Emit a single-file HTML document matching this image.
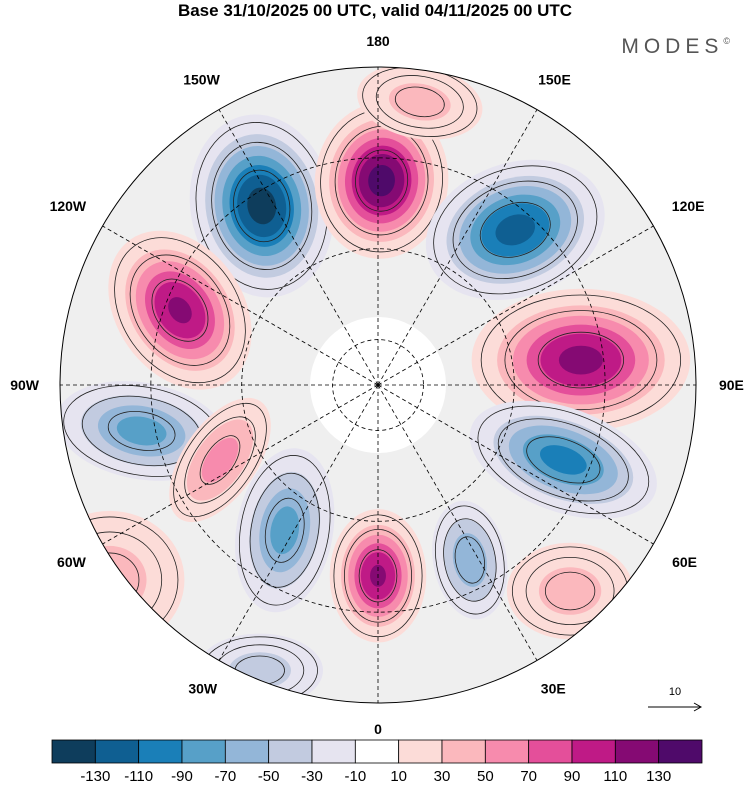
<!DOCTYPE html>
<html><head><meta charset="utf-8"><style>
body{margin:0;background:#fff;font-family:"Liberation Sans",sans-serif}
</style></head><body>
<svg id="map" width="750" height="783" viewBox="0 0 750 783">
<text x="375" y="16" text-anchor="middle" font-size="17" font-weight="bold">Base 31/10/2025 00 UTC, valid 04/11/2025 00 UTC</text>
<text x="735" y="53" text-anchor="end" font-size="21" letter-spacing="5" fill="#555">MODES<tspan font-size="9" dy="-9">©</tspan></text>
<defs><clipPath id="disk"><circle cx="378" cy="385" r="318"/></clipPath></defs>
<g id="field" clip-path="url(#disk)"></g>
<g id="grat"></g>
<circle cx="378" cy="385" r="318" fill="none" stroke="#000" stroke-width="1"/>
<g id="lonlabels" font-size="14" font-weight="bold"></g>
<g>
<text x="675" y="695" text-anchor="middle" font-size="11">10</text>
<line x1="648" y1="707" x2="700" y2="707" stroke="#000"/>
<path d="M694 703 L701 707 L694 711" fill="none" stroke="#000"/>
</g>
<g id="cbar"></g>
</svg>
<script>
const levels=[-150,-130,-110,-90,-70,-50,-30,-10,10,30,50,70,90,110,130,150];
const bandColors=["#0e3d5c","#0f5f92","#1a7fb8","#57a0c8","#93b6d8","#c2cbe0","#e6e4f0","#ffffff","#fcdcd8","#fbb8bd","#f78bad","#e44f9a","#bf1a86","#850a73","#4f0a6a"];
const tickLabels=[-130,-110,-90,-70,-50,-30,-10,10,30,50,70,90,110,130];
const blobLon=[-147,179,138.5,-110.7,97,68,-79,-64.6,-32.7,0,27.7,43,-54,-22.5,171.6];
const blobColat=[47,45,45.6,46.6,45,44,53,38.5,38,42,43.5,62,73,68,63];
const blobAmp=[-140,140,-120,115,118,-100,-80,60,-80,115,-70,40,40,-40,40];
const blobRx=[62,58,80,55,95,85,75,32,42,42,32,55,65,55,55];
const blobRy=[80,68,58,75,62,45,42,62,72,58,52,42,60,32,32];
const blobRot=[-10,5,-20,-35,0,20,10,35,10,0,-10,0,0,0,10];
const NS="http://www.w3.org/2000/svg";
const cx=378,cy=385,R=318,maxColat=70;
function px(lon,colat){const r=R*colat/maxColat,a=lon*Math.PI/180;return [cx+r*Math.sin(a),cy+r*Math.cos(a)];}
function mk(t,attrs,parent){const e=document.createElementNS(NS,t);for(const k in attrs)e.setAttribute(k,attrs[k]);parent.appendChild(e);return e;}
function bandColor(v){for(let i=0;i<bandColors.length;i++){if(v>=levels[i]&&v<levels[i+1])return bandColors[i];}return v<0?bandColors[0]:bandColors[14];}
const field=document.getElementById('field');
const bg=mk('rect',{x:0,y:0,width:750,height:783,fill:'#efefef'},field);


const pole=mk('circle',{cx:cx,cy:cy,r:68,fill:'#ffffff'},field);


blobLon.forEach((lon,i)=>{
  const [x,y]=px(lon,blobColat[i]);const amp=blobAmp[i],A=Math.abs(amp);
  const g=mk('g',{transform:`translate(${x},${y}) rotate(${blobRot[i]})`},field);
  
  
  for(let t=10;t<A;t+=20){
    const s=1.15*Math.pow(Math.log(A/t)/Math.log(A/10),0.45);
    const v=Math.sign(amp)*(t+10);
    mk('ellipse',{cx:0,cy:0,rx:blobRx[i]*s,ry:blobRy[i]*s,fill:bandColor(v)},g);
  }
  [0.45,0.8,1.05].forEach(f=>mk('ellipse',{cx:0,cy:0,rx:blobRx[i]*f,ry:blobRy[i]*f,fill:'none',stroke:'#222','stroke-width':0.8},g));
});
const grat=document.getElementById('grat');
for(let lon=0;lon<360;lon+=30){const [x,y]=px(lon,maxColat);const l=mk('line',{x1:cx,y1:cy,x2:x,y2:y,stroke:'#000','stroke-width':0.8,'stroke-dasharray':'4 3'},grat);}
[10,30,50].forEach(c=>{const ci=mk('circle',{cx:cx,cy:cy,r:R*c/maxColat,fill:'none',stroke:'#000','stroke-width':0.8,'stroke-dasharray':'4 3'},grat);});
const lonNames=["0","30E","60E","90E","120E","150E","180","150W","120W","90W","60W","30W"];
const lab=document.getElementById('lonlabels');
lonNames.forEach((n,i)=>{
  const a=i*30*Math.PI/180;const hw=n.length*4.8;
  const r=R+21+hw*Math.abs(Math.sin(a))+5*Math.abs(Math.cos(a));
  const x=cx+r*Math.sin(a),y=cy+r*Math.cos(a);
  const t=mk('text',{x:x,y:y+5,'text-anchor':'middle'},lab);t.textContent=n;});
const cb=document.getElementById('cbar');const x0=52,w=650/15;
bandColors.forEach((c,i)=>{const r=mk('rect',{x:x0+i*w,y:740,width:w,height:23,fill:c,stroke:'#000','stroke-width':0.8},cb);});
tickLabels.forEach((v,i)=>{const t=mk('text',{x:x0+(i+1)*w,y:781,'text-anchor':'middle','font-size':15},cb);t.textContent=v;});
</script>
</body></html>
